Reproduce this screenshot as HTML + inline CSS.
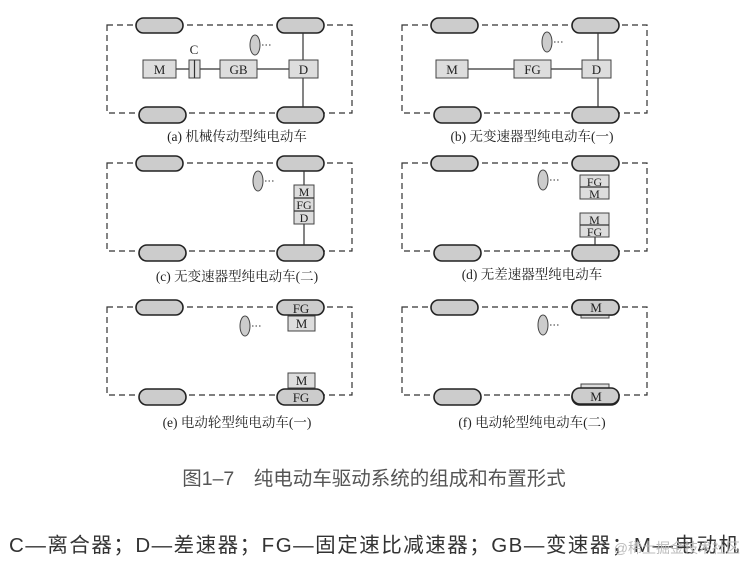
<!DOCTYPE html>
<html><head><meta charset="utf-8"><style>
html,body{margin:0;padding:0;background:#fff;}
svg{display:block;}
.w{fill:#ccc;stroke:#222;stroke-width:1.6;}
.d{fill:none;stroke:#333;stroke-width:1.2;stroke-dasharray:6,4;}
.b{fill:#ddd;stroke:#444;stroke-width:1;}
.l{stroke:#333;stroke-width:1.2;}
.t{font-family:"Liberation Serif",serif;font-size:13px;fill:#222;text-anchor:middle;}
.cap{font-family:"Liberation Serif","Noto Serif CJK SC",serif;font-size:13.5px;fill:#222;text-anchor:middle;}
</style></head><body>
<svg width="751" height="565" viewBox="0 0 751 565">
<defs>
<g id="base">
<rect class="d" x="107" y="25" width="245" height="88"/>
<rect class="w" x="136" y="18" width="47" height="15" rx="7.5"/>
<rect class="w" x="277" y="18" width="47" height="15" rx="7.5"/>
<rect class="w" x="139" y="107" width="47" height="16" rx="8"/>
<rect class="w" x="277" y="107" width="47" height="16" rx="8"/>
</g>
</defs>
<!-- (a) -->
<g>
<use href="#base"/>
<line class="l" x1="303" y1="33" x2="303" y2="107"/>
<line class="l" x1="176" y1="69" x2="289" y2="69"/>
<rect class="b" x="143" y="60" width="33" height="18"/><text class="t" x="159.5" y="74">M</text>
<rect class="b" x="189" y="60" width="11" height="18"/><line class="l" x1="194.5" y1="60" x2="194.5" y2="78"/>
<text class="t" x="194" y="54">C</text>
<rect class="b" x="220" y="60" width="37" height="18"/><text class="t" x="238.5" y="74">GB</text>
<rect class="b" x="289" y="60" width="29" height="18"/><text class="t" x="303.5" y="74">D</text>
<ellipse class="b" cx="255" cy="45" rx="5" ry="10" style="fill:#ccc"/>
<line x1="262" y1="45" x2="271" y2="45" stroke="#333" stroke-dasharray="1.5,2"/>
<text class="cap" x="237" y="141">(a) 机械传动型纯电动车</text>
</g>
<!-- (b) -->
<g transform="translate(295,0)">
<use href="#base"/>
<line class="l" x1="303" y1="33" x2="303" y2="107"/>
<line class="l" x1="173" y1="69" x2="289" y2="69"/>
<rect class="b" x="141" y="60" width="32" height="18"/><text class="t" x="157" y="74">M</text>
<rect class="b" x="219" y="60" width="37" height="18"/><text class="t" x="237.5" y="74">FG</text>
<rect class="b" x="287" y="60" width="29" height="18"/><text class="t" x="301.5" y="74">D</text>
<ellipse class="b" cx="252" cy="42" rx="5" ry="10" style="fill:#ccc"/>
<line x1="259" y1="42" x2="268" y2="42" stroke="#333" stroke-dasharray="1.5,2"/>
<text class="cap" x="237" y="141">(b) 无变速器型纯电动车(一)</text>
</g>
<!-- (c) -->
<g transform="translate(0,138)">
<use href="#base"/>
<line class="l" x1="304" y1="33" x2="304" y2="107"/>
<rect class="b" x="294" y="47" width="20" height="39"/>
<line class="l" x1="294" y1="60" x2="314" y2="60"/><line class="l" x1="294" y1="73" x2="314" y2="73"/>
<text class="t" x="304" y="58" style="font-size:12px">M</text>
<text class="t" x="304" y="71" style="font-size:12px">FG</text>
<text class="t" x="304" y="84" style="font-size:12px">D</text>
<ellipse class="b" cx="258" cy="43" rx="5" ry="10" style="fill:#ccc"/>
<line x1="265" y1="43" x2="274" y2="43" stroke="#333" stroke-dasharray="1.5,2"/>
<text class="cap" x="237" y="143">(c) 无变速器型纯电动车(二)</text>
</g>
<!-- (d) -->
<g transform="translate(295,138)">
<use href="#base"/>
<line class="l" x1="300" y1="99" x2="300" y2="107"/>
<rect class="b" x="285" y="37" width="29" height="24"/><line class="l" x1="285" y1="49" x2="314" y2="49"/>
<text class="t" x="299.5" y="48" style="font-size:12px">FG</text><text class="t" x="299.5" y="60" style="font-size:12px">M</text>
<rect class="b" x="285" y="75" width="29" height="24"/><line class="l" x1="285" y1="87" x2="314" y2="87"/>
<text class="t" x="299.5" y="86" style="font-size:12px">M</text><text class="t" x="299.5" y="98" style="font-size:12px">FG</text>
<ellipse class="b" cx="248" cy="42" rx="5" ry="10" style="fill:#ccc"/>
<line x1="255" y1="42" x2="264" y2="42" stroke="#333" stroke-dasharray="1.5,2"/>
<text class="cap" x="237" y="141">(d) 无差速器型纯电动车</text>
</g>
<!-- (e) -->
<g transform="translate(0,282)">
<use href="#base"/>
<text class="t" x="301" y="31">FG</text>
<rect class="b" x="288" y="34" width="27" height="15"/><text class="t" x="301.5" y="46">M</text>
<rect class="b" x="288" y="91" width="27" height="15"/><text class="t" x="301.5" y="103">M</text>
<text class="t" x="301" y="120">FG</text>
<ellipse class="b" cx="245" cy="44" rx="5" ry="10" style="fill:#ccc"/>
<line x1="252" y1="44" x2="261" y2="44" stroke="#333" stroke-dasharray="1.5,2"/>
<text class="cap" x="237" y="145">(e) 电动轮型纯电动车(一)</text>
</g>
<!-- (f) -->
<g transform="translate(295,282)">
<use href="#base"/>
<rect class="b" x="286" y="32" width="28" height="4"/>
<rect class="w" x="277" y="18" width="47" height="15" rx="7.5"/>
<text class="t" x="301" y="30">M</text>
<rect class="b" x="286" y="102" width="28" height="4"/>
<rect class="w" x="277" y="106" width="47" height="16" rx="8"/>
<text class="t" x="301" y="119">M</text>
<ellipse class="b" cx="248" cy="43" rx="5" ry="10" style="fill:#ccc"/>
<line x1="255" y1="43" x2="264" y2="43" stroke="#333" stroke-dasharray="1.5,2"/>
<text class="cap" x="237" y="145">(f) 电动轮型纯电动车(二)</text>
</g>
<text x="374" y="485" text-anchor="middle" style="font-family:'Liberation Sans','Noto Sans CJK SC',sans-serif;font-size:19.5px;fill:#555">图1–7　纯电动车驱动系统的组成和布置形式</text>
<text x="374" y="552" text-anchor="middle" textLength="730" style="font-family:'Liberation Sans','Noto Sans CJK SC',sans-serif;font-size:20.5px;fill:#333">C—离合器；D—差速器；FG—固定速比减速器；GB—变速器；M—电动机</text>
<text x="740" y="553" text-anchor="end" style="font-family:'Liberation Sans','Noto Sans CJK SC',sans-serif;font-size:14px;fill:#bbb">@稀土掘金技术社区</text>
</svg>
</body></html>
